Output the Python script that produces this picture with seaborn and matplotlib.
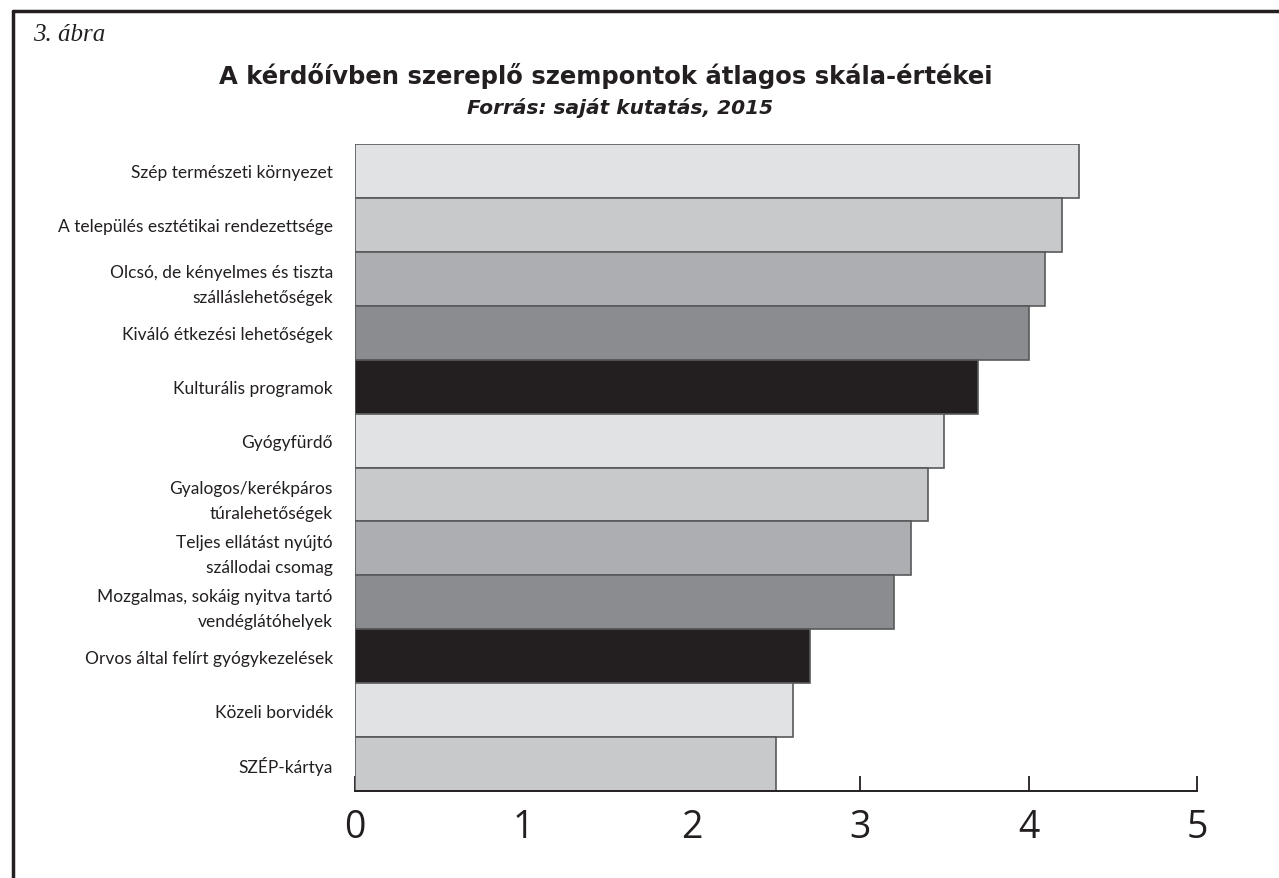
import matplotlib
matplotlib.use("Agg")
import matplotlib.pyplot as plt
import seaborn as sns
import pandas as pd
from matplotlib.lines import Line2D

categories = [
    "Szép természeti környezet",
    "A település esztétikai rendezettsége",
    "Olcsó, de kényelmes és tiszta\nszálláslehetőségek",
    "Kiváló étkezési lehetőségek",
    "Kulturális programok",
    "Gyógyfürdő",
    "Gyalogos/kerékpáros\ntúralehetőségek",
    "Teljes ellátást nyújtó\nszállodai csomag",
    "Mozgalmas, sokáig nyitva tartó\nvendéglátóhelyek",
    "Orvos által felírt gyógykezelések",
    "Közeli borvidék",
    "SZÉP-kártya",
]
values = [4.3, 4.2, 4.1, 4.0, 3.7, 3.5, 3.4, 3.3, 3.2, 2.7, 2.6, 2.5]
xticks = [0, 1, 2, 3, 4, 5]

title = "A kérdőívben szereplő szempontok átlagos skála-értékei"
subtitle = "Forrás: saját kutatás, 2015"
figlabel = "3. ábra"

shades = ["#e1e2e4", "#c8c9cb", "#adaeb1", "#8b8c90", "#231f20"]
palette = [shades[i % 5] for i in range(len(categories))]

df = pd.DataFrame({"cat": categories, "val": values})

sns.set_theme(style="white")
plt.rcParams["font.family"] = ["Lato", "DejaVu Sans"]

fig = plt.figure(figsize=(12.79, 8.79), dpi=100)
ax = fig.add_axes([355/1279, 1-792/879, (1197-355)/1279, (792-145)/879])

sns.barplot(data=df, y="cat", x="val", hue="cat", palette=palette, legend=False,
            orient="h", width=1.0, edgecolor="#58595b", linewidth=1.2, ax=ax,
            saturation=1)

ax.set_xlim(0, 5)
ax.set_ylim(len(categories) - 0.5, -0.5)
ax.set_xlabel("")
ax.set_ylabel("")
ax.set_xticks(xticks)
ax.set_xticklabels([str(t) for t in xticks], fontsize=27, color="#231f20",
                   family=["Open Sans", "DejaVu Sans"])
ax.tick_params(axis="x", direction="in", length=11, width=1.3, color="#231f20",
               pad=12, bottom=True)
ax.tick_params(axis="y", length=0, pad=16)
for lab in ax.get_yticklabels():
    lab.set_fontsize(12.5)
    lab.set_color("#231f20")
    lab.set_linespacing(1.7)
    lab.set_horizontalalignment("right")
    lab.set_multialignment("right")

for s in ["top", "right", "left"]:
    ax.spines[s].set_visible(False)
ax.spines["bottom"].set_color("#231f20")
ax.spines["bottom"].set_linewidth(1.4)
ax.set_zorder(2)

fig.text(33/1279, 1-35/879, figlabel, fontsize=18, style="italic",
         family=["Liberation Serif", "DejaVu Serif"], ha="left", va="center", color="#231f20")
fig.text(606/1279, 1-76/879, title, fontsize=17.5, fontweight="bold",
         family=["DejaVu Sans"], ha="center", va="center", color="#231f20")
fig.text(620/1279, 1-108/879, subtitle, fontsize=14.5, fontweight="bold", style="italic",
         family=["DejaVu Sans"], ha="center", va="center", color="#231f20")

fig.add_artist(Line2D([13/1279, 13/1279], [0, 1-12/879], transform=fig.transFigure,
                      color="#231f20", linewidth=2.5))
fig.add_artist(Line2D([13/1279, 1], [1-12/879, 1-12/879], transform=fig.transFigure,
                      color="#231f20", linewidth=2.5))

fig.savefig("out.png", dpi=100)
